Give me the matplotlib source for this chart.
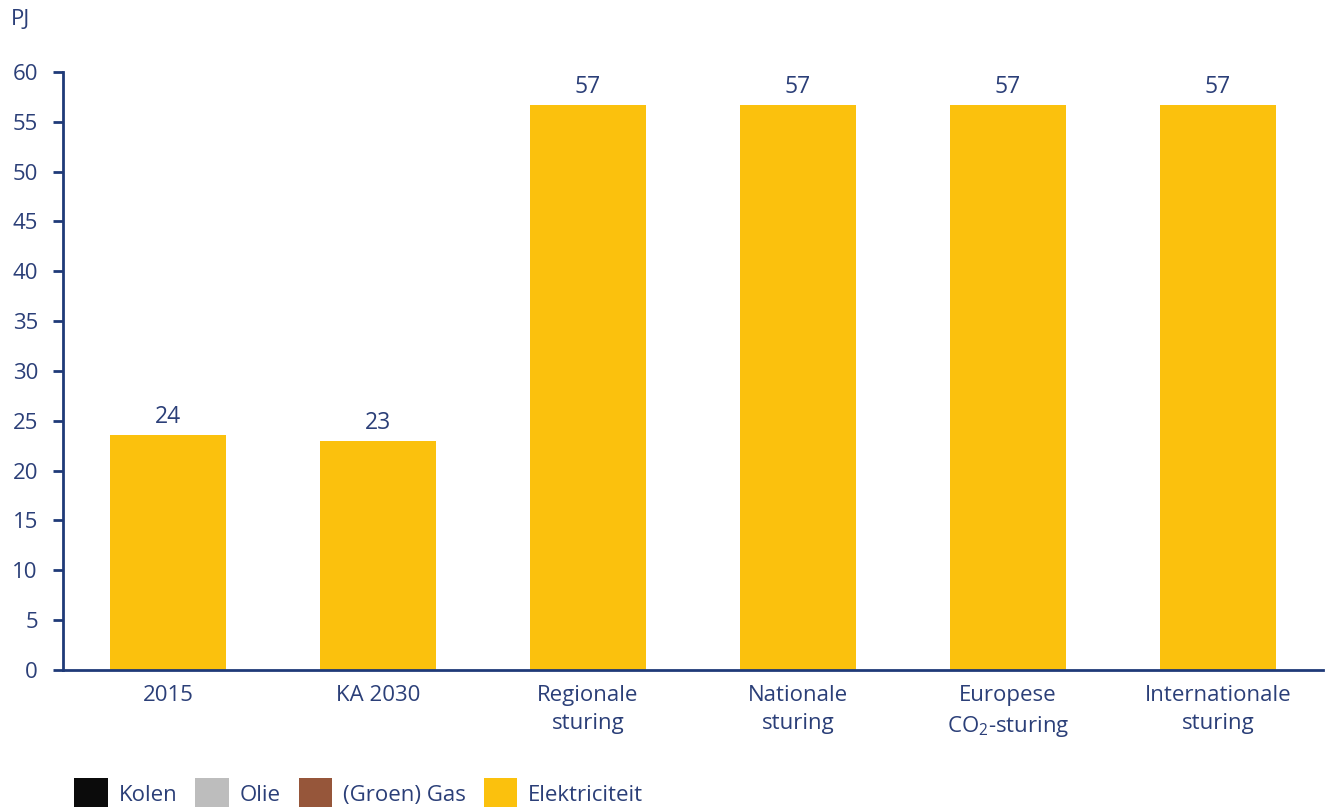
import matplotlib.pyplot as plt
import numpy as np
from matplotlib.legend_handler import HandlerPatch
from matplotlib.patches import Rectangle
from matplotlib.container import BarContainer

plt.rcParams['font.family'] = ['Open Sans', 'DejaVu Sans']
plt.rcParams['mathtext.fontset'] = 'custom'
plt.rcParams['mathtext.rm'] = 'Open Sans'
plt.rcParams['mathtext.it'] = 'Open Sans'

categories = ['2015', 'KA 2030', 'Regionale\nsturing', 'Nationale\nsturing',
              'Europese\nCO$_2$-sturing', 'Internationale\nsturing']
kolen = [0, 0, 0, 0, 0, 0]
olie = [0, 0, 0, 0, 0, 0]
gas = [0, 0, 0, 0, 0, 0]
elektriciteit = [23.6, 23.0, 56.7, 56.7, 56.7, 56.7]

series = [('Kolen', kolen, '#0b0b0b'),
          ('Olie', olie, '#bdbdbd'),
          ('(Groen) Gas', gas, '#96563a'),
          ('Elektriciteit', elektriciteit, '#fbc10d')]

navy = '#1f3a78'
txt = '#2b3f78'


def tall_box(legend, orig_handle, xdescent, ydescent, width, height, fontsize):
    # iets hogere legendablokjes, zoals in het origineel
    return Rectangle((-xdescent, -ydescent - 2.5), width, height + 5)


fig = plt.figure(figsize=(13.25, 8.07), dpi=100)
ax = fig.add_axes([0.0475, 0.1698, 0.951, 0.741])

x = np.arange(len(categories))
bottom = np.zeros(len(categories))
handles = []
for name, vals, col in series:
    b = ax.bar(x, vals, 0.55, bottom=bottom, color=col, label=name)
    handles.append(b.patches[0])
    bottom += np.array(vals)

for xi, tot in zip(x, bottom):
    ax.text(xi, tot + 0.6, f'{tot:.0f}', ha='center', va='bottom', fontsize=16.5, color=txt)

ax.set_xlim(-0.5, 5.5)
ax.set_ylim(0, 60)
ax.set_yticks(range(0, 61, 5))
ax.set_xticks(x)
ax.set_xticklabels(categories, fontsize=16, color=txt, linespacing=1.45)
ax.tick_params(axis='y', labelsize=16, labelcolor=txt, color=navy, length=7, width=2, pad=11)
ax.tick_params(axis='x', length=0, pad=11)
for s in ['top', 'right']:
    ax.spines[s].set_visible(False)
for s in ['left', 'bottom']:
    ax.spines[s].set_color(navy)
    ax.spines[s].set_linewidth(2)

ax.text(-0.041, 1.07, 'PJ', transform=ax.transAxes, fontsize=16, color=txt, ha='left', va='bottom')

fig.legend(handles=handles, labels=[s[0] for s in series], loc='lower left',
           bbox_to_anchor=(0.041, -0.023), ncol=4,
           frameon=False, fontsize=16, labelcolor=txt, handlelength=1.5, handleheight=1.2,
           handletextpad=0.5, columnspacing=0.8,
           handler_map={Rectangle: HandlerPatch(patch_func=tall_box)})

plt.savefig('out.png', dpi=100)
